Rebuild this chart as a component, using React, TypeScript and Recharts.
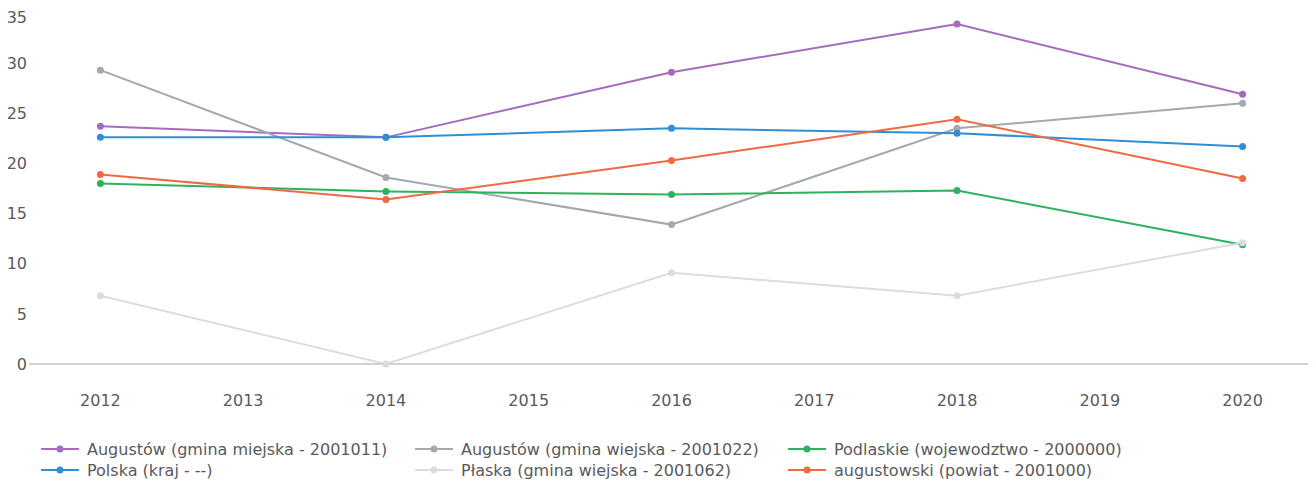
import React from "react";
import { LineChart, Line, XAxis, YAxis } from "recharts";

const years = [2012, 2014, 2016, 2018, 2020];
const tickYears = [2012, 2013, 2014, 2015, 2016, 2017, 2018, 2019, 2020];
const yTicks = [0, 5, 10, 15, 20, 25, 30, 35];

const augustowMiejska = [23.7, 22.6, 29.1, 33.9, 26.9];
const augustowWiejska = [29.3, 18.6, 13.9, 23.5, 26.0];
const podlaskie = [18.0, 17.2, 16.9, 17.3, 11.9];
const polska = [22.6, 22.6, 23.5, 23.0, 21.7];
const plaska = [6.8, 0, 9.1, 6.8, 12.1];
const augustowski = [18.9, 16.4, 20.3, 24.4, 18.5];

const seriesNames = [
  "Augustów (gmina miejska - 2001011)",
  "Augustów (gmina wiejska - 2001022)",
  "Podlaskie (wojewodztwo - 2000000)",
  "Polska (kraj - --)",
  "Płaska (gmina wiejska - 2001062)",
  "augustowski (powiat - 2001000)",
];
const seriesColors = ["#a66bbf", "#a3a9ad", "#2db35d", "#2f8fd5", "#d9dde0", "#ef6a43"];
const seriesValues = [augustowMiejska, augustowWiejska, podlaskie, polska, plaska, augustowski];
const keys = ["s0", "s1", "s2", "s3", "s4", "s5"];

const data = years.map((y, i) => {
  const row: Record<string, number> = { year: y };
  seriesValues.forEach((vals, s) => {
    row[keys[s]] = vals[i];
  });
  return row;
});

const FONT = "'DejaVu Sans', Verdana, sans-serif";
const TEXT = "#5a5a5a";

const legendCols = [79, 453, 826];
const legendRows = [441, 462];

function LegendItem({ idx }: { idx: number }) {
  const col = idx % 3;
  const row = Math.floor(idx / 3);
  const color = seriesColors[idx];
  return (
    <div
      style={{
        position: "absolute",
        left: legendCols[col] - 46,
        top: legendRows[row] - 10,
        height: 20,
        display: "flex",
        alignItems: "center",
        whiteSpace: "nowrap",
      }}
    >
      <svg width={38} height={20} style={{ marginRight: 8 }}>
        <line x1={0} y1={10} x2={38} y2={10} stroke={color} strokeWidth={2} />
        <circle cx={19} cy={10} r={3.5} fill={color} />
      </svg>
      <span style={{ fontFamily: FONT, fontSize: 16, color: TEXT }}>{seriesNames[idx]}</span>
    </div>
  );
}

export default function App() {
  return (
    <div style={{ position: "relative", width: 1308, height: 481, background: "#fff" }}>
      <LineChart
        width={1308}
        height={420}
        data={data}
        margin={{ top: 5, right: 2, left: 0, bottom: 0 }}
      >
        <XAxis
          dataKey="year"
          type="number"
          domain={[2011.5, 2020.5]}
          allowDataOverflow={true}
          ticks={tickYears}
          interval={0}
          height={64}
          tickLine={false}
          tickSize={0}
          tickMargin={31}
          axisLine={{ stroke: "#cdbfc0", strokeWidth: 1.5 }}
          tick={{ fill: TEXT, fontSize: 16, fontFamily: FONT }}
        />
        <YAxis
          type="number"
          domain={[0, 35]}
          ticks={yTicks}
          width={21}
          axisLine={false}
          tickLine={false}
          tickSize={0}
          tickMargin={2}
          tick={{ fill: TEXT, fontSize: 16, fontFamily: FONT }}
        />
        {keys.map((k, s) => (
          <Line
            key={k}
            type="linear"
            dataKey={k}
            stroke={seriesColors[s]}
            strokeWidth={2}
            dot={{ r: 3.5, fill: seriesColors[s], stroke: "none" }}
            activeDot={false}
            isAnimationActive={false}
          />
        ))}
      </LineChart>
      {seriesNames.map((_, i) => (
        <LegendItem key={i} idx={i} />
      ))}
    </div>
  );
}
